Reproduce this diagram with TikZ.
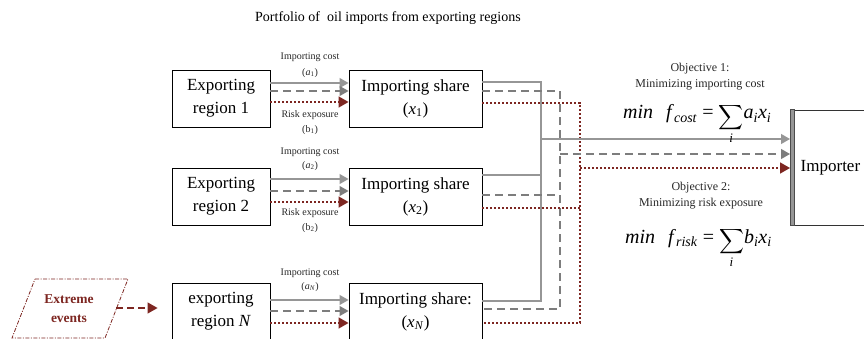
\documentclass[tikz,border=0pt]{standalone}
\usepackage{exscale}
\usepackage{fontspec}
\setmainfont{Liberation Serif}
\usetikzlibrary{arrows.meta}
\definecolor{dred}{RGB}{125,38,33}
\definecolor{lgray}{RGB}{150,150,150}
\definecolor{dgray}{RGB}{125,125,125}
\newcommand{\bigsumi}{\raisebox{-3pt}{\fontsize{16}{16}\selectfont$\displaystyle\sum_{\mbox{\fontsize{13}{13}\selectfont\textit{i}}}$}}
\begin{document}
\begin{tikzpicture}[x=1pt,y=-1pt,
  regbox/.style={draw=black, line width=0.9pt, minimum width=98pt, minimum height=57pt, inner sep=0pt, align=center, font=\fontsize{17}{23}\selectfont},
  sharebox/.style={regbox, minimum width=133pt},
  lbl/.style={font=\fontsize{10}{11}\selectfont, text=black!85, inner sep=0pt},
  objtxt/.style={font=\fontsize{12}{16}\selectfont, align=center, inner sep=0pt, text=black!85},
  formula/.style={font=\fontsize{20}{24}\selectfont, inner sep=0pt, anchor=base west},
  gsolid/.style={draw=lgray, line width=1.1pt},
  gdash/.style={draw=dgray, line width=1.1pt, dash pattern=on 8pt off 5pt},
  rdot/.style={draw=dred, line width=1.6pt, dash pattern=on 2pt off 2pt},
  garr/.style={-{Triangle[length=9pt,width=10pt]}},
  rarr/.style={-{Triangle[length=10pt,width=11pt]}},
]
\useasboundingbox (0,0) rectangle (864,339);
\clip (0,0) rectangle (864,339);

% title
\node[font=\fontsize{14}{16}\selectfont, inner sep=0pt] (title) at (388,18) {Portfolio of\ \ oil imports from exporting regions};

% boxes
\node[regbox] (e1) at (221,98.5) {Exporting\\region 1};
\node[sharebox] (s1) at (415.5,98.5) {Importing share\\(\textit{x}\textsubscript{1})};
\node[regbox] (e2) at (221,196.5) {Exporting\\region 2};
\node[sharebox] (s2) at (415.5,196.5) {Importing share\\(\textit{x}\textsubscript{2})};
\node[regbox] (eN) at (221,311.5) {exporting\\region \textit{N}};
\node[sharebox] (sN) at (415.5,311.5) {Importing share:\\(\textit{x}\textsubscript{\textit{N}})};

% labels between boxes
\node[lbl] (c1) at (310,57) {Importing cost};
\node[lbl] (ca1) at (310,73) {(\textit{a}\textsubscript{1})};
\node[lbl] (r1) at (310,115) {Risk exposure};
\node[lbl] (rb1) at (310,130) {(b\textsubscript{1})};
\node[lbl] (c2) at (310,152) {Importing cost};
\node[lbl] (ca2) at (310,166) {(\textit{a}\textsubscript{2})};
\node[lbl] (r2) at (310,213) {Risk exposure};
\node[lbl] (rb2) at (310,228) {(b\textsubscript{2})};
\node[lbl] (cN) at (310,273) {Importing cost};
\node[lbl] (caN) at (310,287) {(\textit{a}\textsubscript{\textit{N}})};

% arrows region -> share
\draw[gsolid,garr] ([yshift=15.5pt]e1.east) -- ([yshift=15.5pt]s1.west);
\draw[gdash,garr] ([yshift=7.5pt]e1.east) -- ([yshift=7.5pt]s1.west);
\draw[rdot,rarr] ([yshift=-3.5pt]e1.east) -- ([yshift=-3.5pt]s1.west);
\draw[gsolid,garr] ([yshift=17.5pt]e2.east) -- ([yshift=17.5pt]s2.west);
\draw[gdash,garr] ([yshift=5.5pt]e2.east) -- ([yshift=5.5pt]s2.west);
\draw[rdot,rarr] ([yshift=-5.5pt]e2.east) -- ([yshift=-5.5pt]s2.west);
\draw[gsolid,garr] ([yshift=11.5pt]eN.east) -- ([yshift=11.5pt]sN.west);
\draw[gdash,garr] ([yshift=0.5pt]eN.east) -- ([yshift=0.5pt]sN.west);
\draw[rdot,rarr] ([yshift=-11.5pt]eN.east) -- ([yshift=-11.5pt]sN.west);

% importer
\node[draw=black!80, line width=0.9pt, minimum width=80pt, minimum height=115pt, inner sep=0pt, font=\fontsize{17}{20}\selectfont, anchor=west] (imp) at (790,167.5) {Importer};
\fill[lgray, draw=black!70, line width=0.6pt] (imp.north west) rectangle ([xshift=4pt]imp.south west);

% bus coordinates
\coordinate (bs) at (541,301);
\coordinate (bd) at (560,309);
\coordinate (br) at (580,323);
\coordinate (o2s) at ([yshift=21.5pt]s2.east);
\coordinate (o2d) at ([yshift=1.5pt]s2.east);
\coordinate (o2r) at ([yshift=-11.5pt]s2.east);
\coordinate (ins) at ([yshift=28.5pt]imp.west);
\coordinate (ind) at ([yshift=13.5pt]imp.west);
\coordinate (inr) at ([yshift=-0.5pt]imp.west);

% share -> bus
\draw[gsolid] ([yshift=16.5pt]s1.east) -| (bs) -- ([yshift=10.5pt]sN.east);
\draw[gsolid] (o2s) -- (o2s -| bs);
\draw[gdash] ([yshift=7.5pt]s1.east) -| (bd) -- ([yshift=2.5pt]sN.east);
\draw[gdash] (o2d) -- (o2d -| bd);
\draw[rdot] ([yshift=-4.5pt]s1.east) -| (br) -- ([yshift=-11.5pt]sN.east);
\draw[rdot] (o2r) -- (o2r -| br);

% bus -> importer
\draw[gsolid,garr] (ins -| bs) -- (ins);
\draw[gdash,garr] (ind -| bd) -- (ind);
\draw[rdot,rarr] (inr -| br) -- (inr);

% objectives
\node[objtxt] (ob1) at (700,76.5) {Objective 1:\\Minimizing importing cost};
\node[formula] (f1) at (623,119) {\textit{min}\hspace{13pt}\textit{f}\textsubscript{\textit{cost}} = \bigsumi\textit{a}\textsubscript{\textit{i}}\textit{x}\textsubscript{\textit{i}}};
\node[objtxt] (ob2) at (701,196) {Objective 2:\\Minimizing risk exposure};
\node[formula] (f2) at (625,243) {\textit{min}\hspace{13pt}\textit{f}\textsubscript{\textit{risk}} = \bigsumi\textit{b}\textsubscript{\textit{i}}\textit{x}\textsubscript{\textit{i}}};

% extreme events
\node[font=\bfseries\fontsize{13.5}{19}\selectfont, text=dred, align=center, inner sep=0pt] (ev) at (69,309) {Extreme\\events};
\draw[dred, line width=0.8pt, dash pattern=on 4pt off 1.5pt on 1pt off 1.5pt] (35,279) -- (128,279) -- (105,338) -- (12,338) -- cycle;
\coordinate (evr) at (116,308);
\draw[dred, line width=1.3pt, dash pattern=on 7pt off 4pt, rarr] (evr) -- ([xshift=-14pt,yshift=3.5pt]eN.west);
\end{tikzpicture}
\end{document}
